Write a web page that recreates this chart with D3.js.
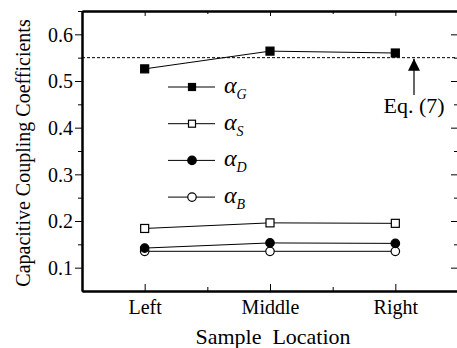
<!DOCTYPE html>
<html>
<head>
<meta charset="utf-8">
<script src="https://cdn.jsdelivr.net/npm/d3@7"></script>
<style>
  body { margin: 0; background: #fff; }
  svg, svg text { font-family: "Liberation Serif", "DejaVu Serif", serif; }
  .axis path, .axis line { stroke: #000; }
  .axis text { font-size: 20px; fill: #000; }
</style>
</head>
<body>
<div id="chart"></div>
<script>
// data
const locations = ['Left', 'Middle', 'Right'];
const alphaG = [0.526, 0.564, 0.560];
const alphaS = [0.184, 0.196, 0.195];
const alphaD = [0.142, 0.153, 0.152];
const alphaB = [0.135, 0.135, 0.135];
const yMajor = [0.1, 0.2, 0.3, 0.4, 0.5, 0.6];
const yMinor = [0.15, 0.25, 0.35, 0.45, 0.55, 0.65];
const eqValue = 0.55;

const series = [
    { sub: 'G', values: alphaG, shape: 'square', filled: true },
    { sub: 'S', values: alphaS, shape: 'square', filled: false },
    { sub: 'D', values: alphaD, shape: 'circle', filled: true },
    { sub: 'B', values: alphaB, shape: 'circle', filled: false }
];

const width = 457, height = 348;
const margin = { top: 11, right: -1, bottom: 57, left: 82 };
const serif = '"Liberation Serif", "DejaVu Serif", serif';

const svg = d3.select('#chart').append('svg')
    .attr('width', width)
    .attr('height', height);

const x = d3.scaleLinear()
    .domain([0.5, locations.length + 0.5])
    .range([margin.left, width - margin.right]);

const y = d3.scaleLinear()
    .domain([0.05, 0.65])
    .range([height - margin.bottom, margin.top]);

const xMajor = locations.map((d, i) => i + 1);
const xMinor = locations.slice(1).map((d, i) => i + 1.5);

// axes
const gx = svg.append('g').attr('class', 'axis')
    .attr('transform', `translate(0,${y.range()[0]})`)
    .call(d3.axisBottom(x).tickValues(xMajor).tickSize(-7).tickSizeOuter(0)
        .tickFormat(d => locations[d - 1]));
gx.selectAll('text').attr('y', 23).attr('dy', 0);

svg.append('g').attr('class', 'axis')
    .attr('transform', `translate(0,${y.range()[0]})`)
    .call(d3.axisBottom(x).tickValues(xMinor).tickSize(-4).tickSizeOuter(0).tickFormat(''));

svg.append('g').attr('class', 'axis')
    .attr('transform', `translate(0,${y.range()[1]})`)
    .call(d3.axisTop(x).tickValues(xMajor).tickSize(-5).tickSizeOuter(0).tickFormat(''));

svg.append('g').attr('class', 'axis')
    .attr('transform', `translate(0,${y.range()[1]})`)
    .call(d3.axisTop(x).tickValues(xMinor).tickSize(-3).tickSizeOuter(0).tickFormat(''));

const gy = svg.append('g').attr('class', 'axis')
    .attr('transform', `translate(${x.range()[0]},0)`)
    .call(d3.axisLeft(y).tickValues(yMajor).tickSize(7).tickSizeOuter(0).tickFormat(d3.format('.1f')));
gy.selectAll('text').attr('x', -9).attr('dy', '0.34em');

svg.append('g').attr('class', 'axis')
    .attr('transform', `translate(${x.range()[0]},0)`)
    .call(d3.axisLeft(y).tickValues(yMinor).tickSize(4).tickSizeOuter(0).tickFormat(''));

svg.append('g').attr('class', 'axis')
    .attr('transform', `translate(${x.range()[1]},0)`)
    .call(d3.axisRight(y).tickValues(yMajor).tickSize(-7).tickSizeOuter(0).tickFormat(''));

svg.append('g').attr('class', 'axis')
    .attr('transform', `translate(${x.range()[1]},0)`)
    .call(d3.axisRight(y).tickValues(yMinor).tickSize(-4).tickSizeOuter(0).tickFormat(''));

svg.selectAll('.axis').attr('font-family', serif);
svg.selectAll('.axis text').style('font-family', serif);
svg.selectAll('.axis path.domain').attr('stroke-width', 2);

// axis titles
svg.append('text')
    .attr('x', 273)
    .attr('y', 344)
    .attr('text-anchor', 'middle')
    .style('font-size', '22px')
    .text('Sample\u00a0 Location');

svg.append('text')
    .attr('transform', `translate(30,${(y.range()[0] + y.range()[1]) / 2 + 2}) rotate(-90)`)
    .attr('text-anchor', 'middle')
    .style('font-size', '20px')
    .text('Capacitive Coupling Coefficients');

// Eq. (7) reference line
svg.append('line')
    .attr('x1', x.range()[0]).attr('x2', x.range()[1])
    .attr('y1', y(eqValue)).attr('y2', y(eqValue))
    .attr('stroke', '#000')
    .attr('stroke-dasharray', '3,2');

// markers
function drawMarker(g, s, cx, cy, size) {
    if (s.shape === 'square') {
        g.append('rect')
            .attr('x', cx - size / 2).attr('y', cy - size / 2)
            .attr('width', size).attr('height', size)
            .attr('fill', s.filled ? '#000' : '#fff')
            .attr('stroke', '#000').attr('stroke-width', 1.2);
    } else {
        g.append('circle')
            .attr('cx', cx).attr('cy', cy).attr('r', size / 2)
            .attr('fill', s.filled ? '#000' : '#fff')
            .attr('stroke', '#000').attr('stroke-width', 1.2);
    }
}

const line = d3.line()
    .x((d, i) => x(i + 1))
    .y(d => y(d));

const plot = svg.append('g');
series.slice().reverse().forEach(s => {
    plot.append('path')
        .attr('d', line(s.values))
        .attr('fill', 'none')
        .attr('stroke', s.sub === 'B' ? '#333' : '#000')
        .attr('stroke-width', s.sub === 'B' ? 1.3 : 1);
});
series.slice().reverse().forEach(s => {
    s.values.forEach((v, i) => drawMarker(plot, s, x(i + 1), y(v), s.shape === 'square' ? 8 : 8.5));
});

// arrow pointing at the Eq. (7) line
svg.append('defs').append('marker')
    .attr('id', 'arrow')
    .attr('viewBox', '0 0 10 10')
    .attr('refX', 10).attr('refY', 5)
    .attr('markerWidth', 12).attr('markerHeight', 12)
    .attr('markerUnits', 'userSpaceOnUse')
    .attr('orient', 'auto')
    .append('path')
    .attr('d', 'M0,0L10,5L0,10Z')
    .attr('fill', '#000');

svg.append('line')
    .attr('x1', 414).attr('x2', 414)
    .attr('y1', 95).attr('y2', y(eqValue) + 1)
    .attr('stroke', '#000').attr('stroke-width', 1.2)
    .attr('marker-end', 'url(#arrow)');

svg.append('text')
    .attr('x', 414).attr('y', 113)
    .attr('text-anchor', 'middle')
    .style('font-size', '22px')
    .text('Eq. (7)');

// legend
const legend = svg.append('g');
series.forEach((s, i) => {
    const ly = 87 + i * 36.7;
    const g = legend.append('g');
    g.append('line')
        .attr('x1', 168).attr('x2', 215)
        .attr('y1', ly).attr('y2', ly)
        .attr('stroke', '#000');
    drawMarker(g, s, 192, ly, s.shape === 'square' ? 7 : 8.5);
    const t = g.append('text')
        .attr('x', 224).attr('y', ly + 6)
        .style('font-size', '24px')
        .style('font-style', 'italic');
    t.append('tspan').text('α');
    t.append('tspan')
        .attr('dy', 6)
        .style('font-size', '14px')
        .text(s.sub);
});
</script>
</body>
</html>
